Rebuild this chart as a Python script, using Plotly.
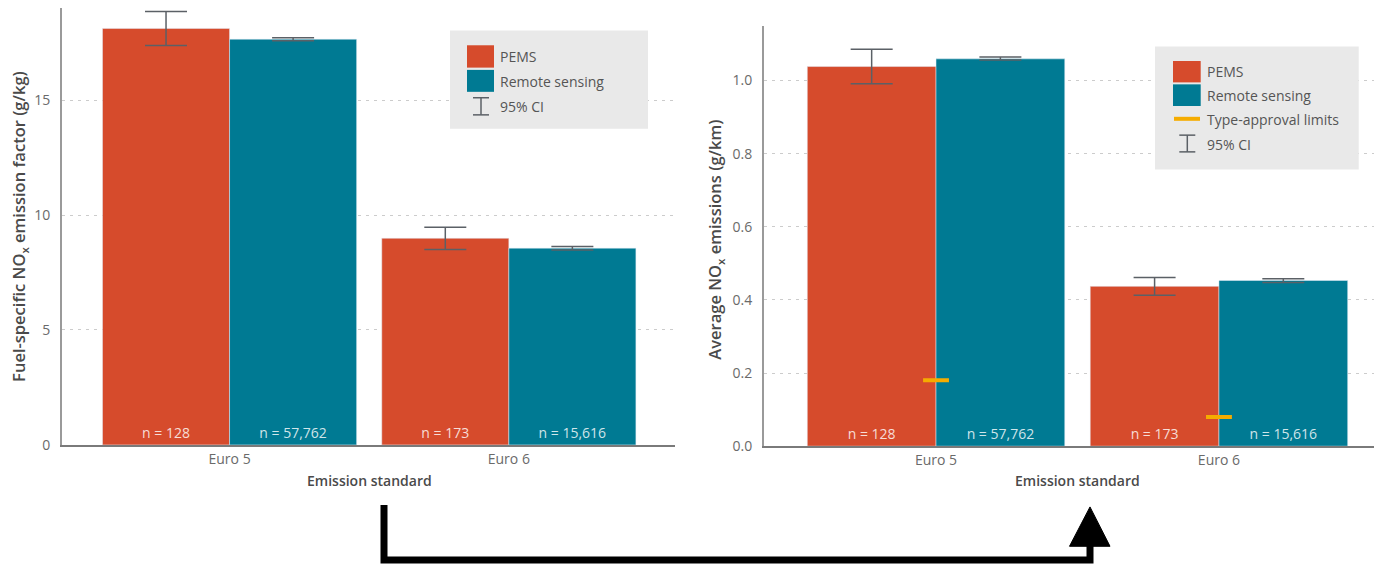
import plotly.graph_objects as go

# ---------------- data ----------------
categories = ["Euro 5", "Euro 6"]

# Left panel: fuel-specific NOx emission factor (g/kg)
fuel_pems = [18.12, 8.99]
fuel_pems_hi = [18.86, 9.47]
fuel_pems_lo = [17.38, 8.50]
fuel_rs = [17.65, 8.56]
fuel_rs_hi = [17.71, 8.63]
fuel_rs_lo = [17.58, 8.48]

# Right panel: average NOx emissions (g/km)
dist_pems = [1.038, 0.437]
dist_pems_hi = [1.085, 0.461]
dist_pems_lo = [0.991, 0.413]
dist_rs = [1.059, 0.453]
dist_rs_hi = [1.064, 0.4575]
dist_rs_lo = [1.056, 0.4475]

type_approval_limits = [0.18, 0.08]

n_pems = ["n = 128", "n = 173"]
n_rs = ["n = 57,762", "n = 15,616"]

left_ticks = [0, 5, 10, 15]
right_ticks = [0.0, 0.2, 0.4, 0.6, 0.8, 1.0]

# ---------------- styling ----------------
W, H = 1374, 573
ORANGE = "#D64B2C"
TEAL = "#007A93"
AMBER = "#F5AC00"
ERR = "#5b6066"
FONT = "Open Sans"


def px(x):
    return x / W


def py(y):
    return 1 - y / H


def err(vals, hi, lo):
    return dict(type="data", symmetric=False,
                array=[h - v for h, v in zip(hi, vals)],
                arrayminus=[v - l for v, l in zip(vals, lo)],
                color=ERR, thickness=1.5, width=21)


fig = go.Figure()
txtfont = dict(family=FONT, size=14, color="rgba(255,255,255,0.82)")

for xa, ya, p, ph, pl, r, rh, rl in [
        ("x", "y", fuel_pems, fuel_pems_hi, fuel_pems_lo, fuel_rs, fuel_rs_hi, fuel_rs_lo),
        ("x2", "y2", dist_pems, dist_pems_hi, dist_pems_lo, dist_rs, dist_rs_hi, dist_rs_lo)]:
    fig.add_trace(go.Bar(x=categories, y=p, name="PEMS", marker_color=ORANGE,
                         error_y=err(p, ph, pl), text=n_pems, textposition="inside",
                         insidetextanchor="start", textfont=txtfont,
                         xaxis=xa, yaxis=ya, offsetgroup="a", hoverinfo="skip"))
    fig.add_trace(go.Bar(x=categories, y=r, name="Remote sensing", marker_color=TEAL,
                         error_y=err(r, rh, rl), text=n_rs, textposition="inside",
                         insidetextanchor="start", textfont=txtfont,
                         xaxis=xa, yaxis=ya, offsetgroup="b", hoverinfo="skip"))

fig.add_trace(go.Scatter(x=categories, y=type_approval_limits, mode="markers",
                         name="Type-approval limits",
                         marker=dict(symbol="line-ew", size=18.5,
                                     line=dict(color=AMBER, width=4)),
                         xaxis="x2", yaxis="y2", hoverinfo="skip"))

tickfont = dict(family=FONT, size=14, color="#6a6a6a")
xax = dict(type="category", showline=True, linecolor="#7a7a7a", linewidth=2,
           ticks="", tickfont=tickfont, showgrid=False, zeroline=False, fixedrange=True)
yax = dict(showline=True, linecolor="#9a9a9a", linewidth=2,
           ticks="outside", ticklen=7, tickcolor="rgba(0,0,0,0)",
           tickfont=tickfont, showgrid=True, gridcolor="#cccccc", griddash="3px,5px",
           gridwidth=1, zeroline=False, fixedrange=True)

fig.update_layout(
    width=W, height=H,
    margin=dict(l=0, r=0, t=0, b=0),
    paper_bgcolor="white", plot_bgcolor="white",
    showlegend=False, barmode="group", bargap=0.09, bargroupgap=0,
    font=dict(family=FONT, color="#555555"),
    xaxis=dict(xax, domain=[px(62), px(675)], range=[-0.6, 1.595], anchor="y"),
    yaxis=dict(yax, domain=[py(452), py(8.3)], range=[0, 19.0], anchor="x",
               tickvals=left_ticks),
    xaxis2=dict(xax, domain=[px(764), 1.0], range=[-0.608, 1.548], anchor="y2"),
    yaxis2=dict(yax, domain=[py(453.3), py(26)], range=[0, 1.15], anchor="x2",
                tickvals=right_ticks, tickformat=".1f"),
)

shapes = []
annotations = []

# axis titles
title_font = dict(family=FONT, size=16.5, color="#4a4a4a", weight=600)
annotations.append(dict(x=px(19.5), y=py(230), xref="paper", yref="paper",
                        text="Fuel-specific NO<sub>x</sub> emission factor (g/kg)",
                        textangle=-90, showarrow=False, font=title_font,
                        xanchor="center", yanchor="middle"))
annotations.append(dict(x=px(715), y=py(243.5), xref="paper", yref="paper",
                        text="Average NO<sub>x</sub> emissions (g/km)",
                        textangle=-90, showarrow=False, font=title_font,
                        xanchor="center", yanchor="middle"))
for cx in (369.5, 1077):
    annotations.append(dict(x=px(cx), y=py(488), xref="paper", yref="paper",
                            text="Emission standard", showarrow=False,
                            font=dict(family=FONT, size=14, color="#4a4a4a", weight=600),
                            xanchor="center", yanchor="middle"))

# custom legends
leg_font = dict(family=FONT, size=14, color="#555555")


def rect(x0, y0, x1, y1, color):
    shapes.append(dict(type="rect", xref="paper", yref="paper",
                       x0=px(x0), x1=px(x1), y0=py(y1), y1=py(y0),
                       fillcolor=color, line=dict(width=0), layer="above"))


def line(x0, y0, x1, y1, color, width):
    shapes.append(dict(type="line", xref="paper", yref="paper",
                       x0=px(x0), x1=px(x1), y0=py(y0), y1=py(y1),
                       line=dict(color=color, width=width), layer="above"))


def ci_symbol(xc, y0, y1):
    line(xc - 8, y0, xc + 8, y0, ERR, 1.5)
    line(xc - 8, y1, xc + 8, y1, ERR, 1.5)
    line(xc, y0, xc, y1, ERR, 1.5)


def label(x, y, text):
    annotations.append(dict(x=px(x), y=py(y), xref="paper", yref="paper",
                            text=text, showarrow=False, font=leg_font,
                            xanchor="left", yanchor="middle"))


# left legend
rect(450, 31, 648, 130.7, "#e9e9e9")
rect(467, 46, 494, 68.7, ORANGE)
rect(467, 71, 494, 93.3, TEAL)
ci_symbol(481, 99.3, 116.7)
label(498, 57.7, "PEMS")
label(498, 82.3, "Remote sensing")
label(498, 108.3, "95% CI")

# right legend
rect(1155, 47.3, 1358.7, 172.3, "#e9e9e9")
rect(1173, 62, 1200.7, 83.7, ORANGE)
rect(1173, 85.7, 1200.7, 107.7, TEAL)
line(1174, 120.7, 1200, 120.7, AMBER, 4)
ci_symbol(1187.3, 137.3, 154.3)
label(1205, 72.7, "PEMS")
label(1205, 97.3, "Remote sensing")
label(1205, 121, "Type-approval limits")
label(1205, 147.3, "95% CI")

# connecting arrow
shapes.append(dict(type="path", xref="paper", yref="paper",
                   path=f"M {px(384)},{py(513)} L {px(384)},{py(569)} "
                        f"L {px(1090)},{py(569)} L {px(1090)},{py(553)}",
                   line=dict(color="black", width=7), layer="above"))
shapes.append(dict(type="path", xref="paper", yref="paper",
                   path=f"M {px(1069.5)},{py(555)} L {px(1090)},{py(515)} "
                        f"L {px(1110)},{py(555)} Z",
                   fillcolor="black", line=dict(color="black", width=1), layer="above"))

fig.update_layout(shapes=shapes, annotations=annotations)

fig.write_html("out.html", config={"displayModeBar": False})
